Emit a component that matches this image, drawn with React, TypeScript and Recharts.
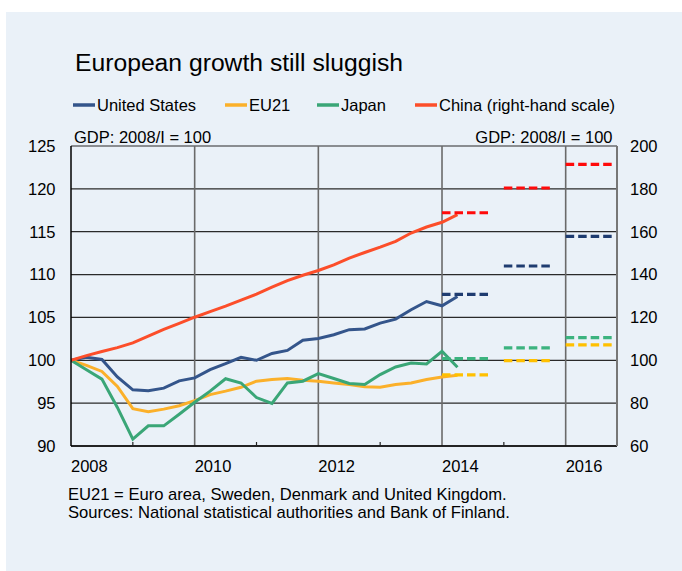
import { LineChart, Line, XAxis, YAxis, CartesianGrid, ReferenceLine } from 'recharts';

// quarterly GDP, 2008/I = 100
const quarters = [
  '2008/I', '2008/II', '2008/III', '2008/IV',
  '2009/I', '2009/II', '2009/III', '2009/IV',
  '2010/I', '2010/II', '2010/III', '2010/IV',
  '2011/I', '2011/II', '2011/III', '2011/IV',
  '2012/I', '2012/II', '2012/III', '2012/IV',
  '2013/I', '2013/II', '2013/III', '2013/IV',
  '2014/I', '2014/II',
];
const unitedStates = [
  100, 100.35, 100.1, 98.05, 96.55, 96.45, 96.75, 97.6, 97.95, 98.9, 99.6, 100.35, 100.0,
  100.8, 101.15, 102.35, 102.55, 102.98, 103.57, 103.65, 104.34, 104.8, 105.9, 106.86, 106.36, 107.44,
];
const eu21 = [
  100, 99.4, 98.7, 96.95, 94.35, 94.0, 94.3, 94.7, 95.3, 96.0, 96.4, 96.85, 97.56,
  97.75, 97.87, 97.67, 97.56, 97.36, 97.17, 96.9, 96.86, 97.17, 97.36, 97.75, 98.06, 98.26,
];
const japan = [
  100, 98.9, 97.8, 94.5, 90.8, 92.35, 92.35, 93.7, 95.1, 96.4, 97.85, 97.35, 95.65,
  94.96, 97.36, 97.56, 98.45, 97.87, 97.29, 97.17, 98.33, 99.22, 99.69, 99.57, 101.05, 99.19,
];
const china = [
  100, 102.2, 104.1, 105.9, 108.1, 111.25, 114.4, 117.2, 120.1, 122.7, 125.3, 128.1, 130.9,
  134.1, 137.2, 139.7, 141.9, 144.5, 147.7, 150.3, 152.8, 155.5, 159.4, 162.2, 164.4, 168.0,
];

// annual forecasts (dashed)
const forecastStart = [2014, 2015, 2016];
const forecastEnd = [2014.75, 2015.75, 2016.75];
const usForecast = [107.7, 111.0, 114.45];
const euForecast = [98.3, 99.95, 101.8];
const jpForecast = [100.2, 101.45, 102.65];
const cnForecast = [168.85, 180.4, 191.4];

const xTicks = [2008, 2009, 2010, 2011, 2012, 2013, 2014, 2015, 2016];
const gridYears = [2010, 2012, 2014, 2016];
const leftTicks = [90, 95, 100, 105, 110, 115, 120, 125];
const rightTicks = [60, 80, 100, 120, 140, 160, 180, 200];

const FONT = '"Liberation Sans", Arial, sans-serif';
const ROMAN = ['I', 'II', 'III', 'IV'];

const toYear = (q: string) => {
  const [y, r] = q.split('/');
  return Number(y) + ROMAN.indexOf(r) / 4;
};

const data = quarters.map((q, i) => ({
  t: toYear(q),
  us: unitedStates[i],
  eu: eu21[i],
  jp: japan[i],
  cn: china[i],
}));

const series = [
  { key: 'us', name: 'United States', color: '#34558b', dash: '#1f3c70', fc: usForecast, axis: 'left', lx: 73 },
  { key: 'eu', name: 'EU21', color: '#fbb02a', dash: '#ffc000', fc: euForecast, axis: 'left', lx: 225 },
  { key: 'jp', name: 'Japan', color: '#3aa677', dash: '#3cb37f', fc: jpForecast, axis: 'left', lx: 317 },
  { key: 'cn', name: 'China (right-hand scale)', color: '#fc4e2a', dash: '#ff0a0a', fc: cnForecast, axis: 'right', lx: 415 },
];

function YearTick(props: any) {
  const { x, y, payload } = props;
  const yr = payload.value as number;
  if (yr % 2 === 1) {
    return <line x1={x} x2={x} y1={y} y2={y - 4} stroke="#222" strokeWidth={1.2} />;
  }
  return (
    <text x={x} y={y + 25.5} textAnchor="start" fontSize={16.5} fill="#000" fontFamily={FONT}>
      {yr}
    </text>
  );
}

export default function App() {
  const tickStyle = { fontSize: 16.5, fill: '#000', fontFamily: FONT };
  return (
    <div style={{ position: 'absolute', left: 0, top: 0, width: 682, height: 571, background: '#fff' }}>
      <div style={{ position: 'absolute', left: 6, top: 12, right: 0, bottom: 0, background: '#eaf1f8' }} />
      <svg width={682} height={571} style={{ position: 'absolute', left: 0, top: 0 }} fontFamily={FONT}>
        <text x={75} y={71} fontSize={24.7} fill="#000">European growth still sluggish</text>
        {series.map((s) => (
          <g key={s.key}>
            <line x1={s.lx} x2={s.lx + 22} y1={105} y2={105} stroke={s.color} strokeWidth={3.5} />
            <text x={s.lx + 24} y={110.7} fontSize={16.5} fill="#000">{s.name}</text>
          </g>
        ))}
        <text x={74} y={143.3} fontSize={16.5} fill="#000">GDP: 2008/I = 100</text>
        <text x={612.5} y={143.3} fontSize={16.5} fill="#000" textAnchor="end">GDP: 2008/I = 100</text>
        <text x={68} y={499.5} fontSize={16.6} fill="#000">EU21 = Euro area, Sweden, Denmark and United Kingdom.</text>
        <text x={68} y={518} fontSize={16.6} fill="#000">Sources: National statistical authorities and Bank of Finland.</text>
      </svg>
      <div style={{ position: 'absolute', left: 0, top: 0 }}>
        <LineChart width={682} height={571} data={data} margin={{ top: 146, right: 0, bottom: 0, left: 0 }}>
          <CartesianGrid yAxisId="left" vertical={false} stroke="#2a2a2a" strokeWidth={1.2} />
          <XAxis
            dataKey="t"
            type="number"
            domain={[2008, 2016.83]}
            ticks={xTicks}
            interval={0}
            height={125}
            tickSize={0}
            tickMargin={0}
            tickLine={false}
            tick={<YearTick />}
            axisLine={{ stroke: '#000', strokeWidth: 1.5 }}
            allowDataOverflow
          />
          <YAxis
            yAxisId="left"
            domain={[90, 125]}
            ticks={leftTicks}
            width={71}
            tickLine={false}
            tickSize={6}
            tickMargin={9.5}
            tick={tickStyle}
            axisLine={{ stroke: '#000', strokeWidth: 1.5 }}
          />
          <YAxis
            yAxisId="right"
            orientation="right"
            domain={[60, 200]}
            ticks={rightTicks}
            width={65}
            tickLine={false}
            tickSize={6}
            tickMargin={7}
            tick={{ ...tickStyle, textAnchor: 'start' }}
            axisLine={{ stroke: '#777', strokeWidth: 2 }}
          />
          {gridYears.map((yr) => (
            <ReferenceLine key={yr} x={yr} yAxisId="left" stroke="#6a6a6a" strokeWidth={1.6} />
          ))}
          {series.map((s) => (
            <Line
              key={s.key}
              yAxisId={s.axis}
              dataKey={s.key}
              stroke={s.color}
              strokeWidth={3}
              dot={false}
              activeDot={false}
              isAnimationActive={false}
            />
          ))}
          {series.flatMap((s) =>
            s.fc.map((v, i) => (
              <Line
                key={`${s.key}-f${i}`}
                yAxisId={s.axis}
                data={[
                  { t: forecastStart[i], f: v },
                  { t: forecastEnd[i], f: v },
                ]}
                dataKey="f"
                stroke={s.dash}
                strokeWidth={3.2}
                strokeDasharray="8.5 4"
                dot={false}
                activeDot={false}
                isAnimationActive={false}
              />
            )),
          )}
        </LineChart>
      </div>
    </div>
  );
}
